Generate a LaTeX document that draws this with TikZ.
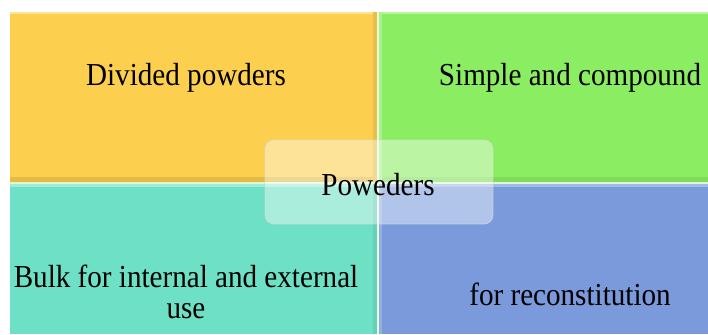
\documentclass[tikz,border=0pt]{standalone}
\usepackage{fontspec}
\setmainfont{Liberation Serif}
\newfontfamily\tnr{Liberation Serif}
\definecolor{cyellow}{HTML}{FCD04E}
\definecolor{cgreen}{HTML}{8BEE62}
\definecolor{cteal}{HTML}{6EE0C6}
\definecolor{cblue}{HTML}{7A9ADB}
\tikzset{
  lbl/.style={font=\tnr\fontsize{32}{31}\selectfont, text=black, xscale=0.91, transform shape, inner sep=0pt, align=center},
}
\begin{document}
\begin{tikzpicture}[x=1pt,y=-1pt]
\useasboundingbox (0,0) rectangle (708,334);
\fill[white] (0,0) rectangle (708,334);
% cells
\fill[cyellow] (10,12) rectangle (377,182);
\fill[cgreen] (379,12) rectangle (708,182);
\fill[cteal] (10,184) rectangle (377,334);
\fill[cblue] (379,184) rectangle (708,334);
% bevel highlights / shadows
\fill[cyellow!60!white] (10,12) rectangle (377,14.5);
\fill[cgreen!60!white] (379,12) rectangle (708,14.5);
\fill[cyellow!90!black] (10,177) rectangle (377,182);
\fill[cgreen!92!black] (379,177) rectangle (708,182);
\fill[cteal!65!white] (10,184) rectangle (377,186.5);
\fill[cblue!70!white] (379,184) rectangle (708,186.5);
\fill[cyellow!92!black] (373,12) rectangle (377,182);
\fill[cteal!93!black] (373,184) rectangle (377,334);
\fill[cgreen!75!white] (379,12) rectangle (381.5,182);
\fill[cblue!80!white] (379,184) rectangle (381.5,334);
\fill[white!80!cgreen] (377,12) rectangle (379,334);
\fill[white!70!cgreen] (10,182) rectangle (708,184);
% centre box
\node[draw=white!85!black, line width=0.8pt, fill=white, fill opacity=0.42, draw opacity=0.7,
      rounded corners=9pt, minimum width=228pt, minimum height=84pt, inner sep=0pt]
      (centre) at (379,182) {};
% labels
\node[lbl] (divided) at (186,78) {Divided powders};
\node[lbl] (simple) at (570,78) {Simple and compound};
\node[lbl] (poweders) at (378,185) {Poweders};
\node[lbl] (bulk) at (186,292) {Bulk for internal and external\\use};
\node[lbl] (recon) at (570,294) {for reconstitution};
\end{tikzpicture}
\end{document}
